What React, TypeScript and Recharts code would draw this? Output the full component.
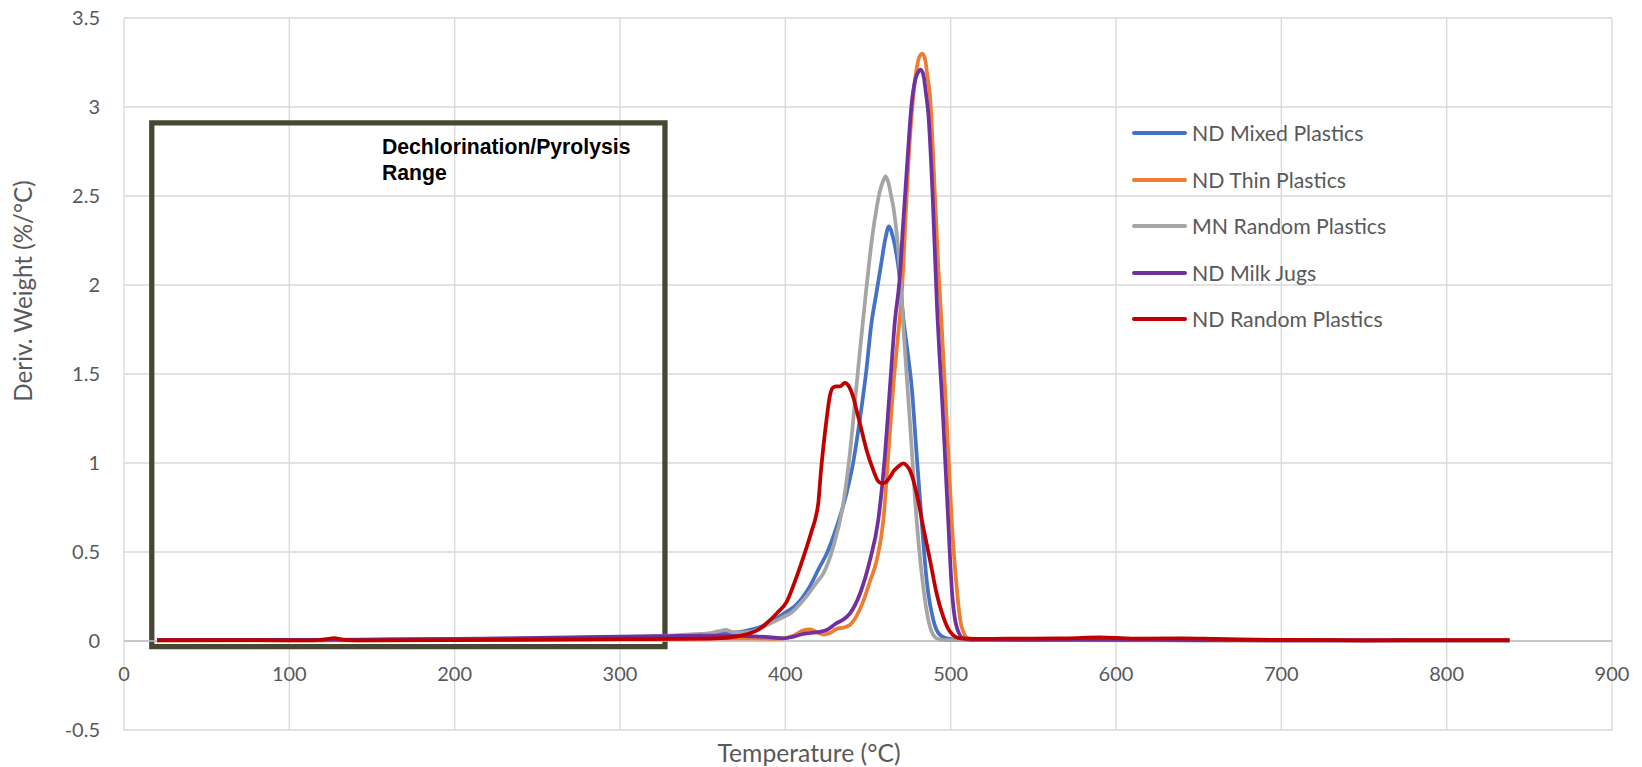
import React from 'react';
import {
  LineChart,
  Line,
  XAxis,
  YAxis,
  CartesianGrid,
  ReferenceLine,
  ReferenceArea,
  Legend,
  Label,
} from 'recharts';

// ---------- tick labels ----------
const xTicks = [0, 100, 200, 300, 400, 500, 600, 700, 800, 900];
const yTicks = [-0.5, 0, 0.5, 1, 1.5, 2, 2.5, 3, 3.5];

// ---------- series names / colours ----------
const seriesNames = [
  'ND Mixed Plastics',
  'ND Thin Plastics',
  'MN Random Plastics',
  'ND Milk Jugs',
  'ND Random Plastics',
];
const seriesColors = ['#4472C4', '#ED7D31', '#A5A5A5', '#7030A0', '#C00000'];

// ---------- ND Mixed Plastics ----------
const mixedT = [20, 50, 100, 150, 200, 250, 300, 330, 350, 362, 370, 380, 390, 400, 405, 410, 415, 421, 425, 431, 435, 437, 441, 445, 449, 452, 455, 458, 460.5, 462.7, 464.5, 466.3, 469.3, 471.3, 474, 476.4, 479.4, 482.4, 485.5, 489.5, 493.5, 497.6, 505, 550, 600, 650, 700, 750, 800, 838];
const mixedV = [0.005, 0.005, 0.005, 0.008, 0.01, 0.015, 0.022, 0.028, 0.035, 0.045, 0.048, 0.065, 0.1, 0.16, 0.19, 0.24, 0.31, 0.42, 0.49, 0.64, 0.76, 0.83, 1.0, 1.24, 1.52, 1.78, 1.95, 2.12, 2.26, 2.33, 2.29, 2.22, 2.03, 1.82, 1.62, 1.43, 1.05, 0.68, 0.34, 0.118, 0.034, 0.015, 0.008, 0.006, 0.005, 0.004, 0.003, 0.003, 0.003, 0.003];

// ---------- ND Thin Plastics ----------
const thinT = [20, 50, 100, 150, 200, 250, 300, 350, 380, 395, 405, 411, 415, 419, 423, 427, 431, 435, 439, 443, 447, 451, 455.3, 459.3, 462.3, 465.3, 468, 470.4, 472.4, 474.4, 477.4, 479.5, 481, 482.8, 484.5, 486, 487.5, 490.5, 492.5, 494.5, 497.6, 500.6, 503.6, 506.6, 510.7, 520, 550, 600, 650, 700, 750, 800, 838];
const thinV = [0.002, 0.003, 0.003, 0.004, 0.005, 0.007, 0.01, 0.015, 0.015, 0.012, 0.03, 0.06, 0.065, 0.05, 0.036, 0.045, 0.068, 0.075, 0.09, 0.14, 0.22, 0.33, 0.455, 0.68, 1.05, 1.43, 1.7, 1.95, 2.31, 2.68, 3.06, 3.22, 3.28, 3.3, 3.27, 3.17, 3.06, 2.5, 2.1, 1.78, 1.24, 0.68, 0.305, 0.08, 0.015, 0.01, 0.01, 0.01, 0.008, 0.006, 0.004, 0.004, 0.004];

// ---------- MN Random Plastics ----------
const mnT = [20, 50, 100, 150, 200, 250, 300, 330, 345, 355, 360, 364, 368, 372, 379, 389, 399, 403, 411, 419, 423, 429, 435, 439, 443, 445, 447, 449, 451, 453, 455, 457, 459, 460.7, 462.5, 464, 465.3, 467, 468.3, 470.3, 472, 475.3, 479.4, 483.4, 487.5, 491.5, 496, 550, 600, 650, 700, 750, 800, 838];
const mnV = [0.003, 0.004, 0.005, 0.007, 0.01, 0.014, 0.022, 0.03, 0.038, 0.045, 0.055, 0.062, 0.05, 0.048, 0.052, 0.09, 0.136, 0.155, 0.23, 0.33, 0.38, 0.53, 0.77, 1.05, 1.43, 1.62, 1.8, 1.98, 2.15, 2.3, 2.42, 2.52, 2.58, 2.61, 2.57, 2.5, 2.44, 2.32, 2.2, 1.93, 1.68, 1.24, 0.68, 0.305, 0.08, 0.015, 0.005, 0.005, 0.004, 0.004, 0.003, 0.003, 0.003, 0.003];

// ---------- ND Milk Jugs ----------
const milkT = [20, 50, 100, 150, 200, 250, 300, 330, 350, 375, 390, 398.8, 405, 410, 415, 420, 425, 431, 435, 439.1, 445.2, 451.2, 456.2, 460.3, 463.3, 466.3, 469, 471.3, 473.7, 476.4, 478.5, 480, 481.8, 483.5, 485, 486.5, 489.1, 491.5, 495.5, 498.5, 500.6, 503.6, 507.6, 512, 550, 600, 650, 700, 750, 800, 838];
const milkV = [0.005, 0.006, 0.006, 0.008, 0.012, 0.017, 0.024, 0.028, 0.03, 0.028, 0.022, 0.015, 0.025, 0.038, 0.045, 0.05, 0.062, 0.1, 0.12, 0.155, 0.267, 0.455, 0.68, 1.05, 1.43, 1.8, 2.02, 2.35, 2.68, 3.02, 3.15, 3.19, 3.21, 3.18, 3.08, 2.96, 2.5, 1.93, 1.24, 0.68, 0.305, 0.08, 0.015, 0.008, 0.006, 0.006, 0.005, 0.004, 0.004, 0.004, 0.004];

// ---------- ND Random Plastics ----------
const ndRandT = [20, 50, 100, 115, 122, 127, 132, 140, 200, 250, 300, 330, 358, 370, 378.6, 384, 388.7, 394.8, 400.8, 406.8, 413, 416, 418.5, 420, 421.5, 423, 425, 427, 429, 431, 433, 436, 438.5, 441.1, 443, 445.2, 449.2, 453.2, 456, 458.2, 460.5, 463.2, 466, 468.3, 471.3, 473.5, 475.3, 477.5, 479.4, 483.4, 487.5, 491.5, 495.5, 499.6, 505.6, 520, 550, 570, 590, 610, 640, 660, 700, 750, 800, 838];
const ndRandV = [0.005, 0.005, 0.004, 0.004, 0.01, 0.016, 0.008, 0.004, 0.005, 0.008, 0.01, 0.012, 0.015, 0.025, 0.043, 0.065, 0.1, 0.155, 0.22, 0.36, 0.53, 0.62, 0.7, 0.78, 0.95, 1.09, 1.25, 1.38, 1.425, 1.43, 1.43, 1.45, 1.43, 1.37, 1.3, 1.22, 1.07, 0.96, 0.9, 0.886, 0.89, 0.92, 0.96, 0.98, 0.998, 0.985, 0.96, 0.9, 0.83, 0.64, 0.455, 0.267, 0.137, 0.052, 0.015, 0.012, 0.014, 0.015, 0.02, 0.014, 0.015, 0.012, 0.006, 0.004, 0.005, 0.005];

const toPoints = (t: number[], v: number[]) => t.map((x, i) => ({ t: x, v: v[i] }));

const seriesData = [
  toPoints(mixedT, mixedV),
  toPoints(thinT, thinV),
  toPoints(mnT, mnV),
  toPoints(milkT, milkV),
  toPoints(ndRandT, ndRandV),
];

const FONT = 'Lato, "Open Sans", sans-serif';
const TEXT = '#595959';

const XTick = (props: any) => {
  const { x, payload } = props;
  return (
    <text x={x} y={681} textAnchor="middle" fill={TEXT} fontSize={20} fontFamily={FONT}>
      {payload.value}
    </text>
  );
};

const YTick = (props: any) => {
  const { y, payload } = props;
  return (
    <text x={100} y={y} dy={7} textAnchor="end" fill={TEXT} fontSize={20} fontFamily={FONT}>
      {payload.value}
    </text>
  );
};

const LegendContent = () => (
  <div style={{ fontFamily: FONT, fontSize: 21.3, color: TEXT }}>
    {seriesNames.map((name, i) => (
      <div key={name} style={{ height: 46.5, display: 'flex', alignItems: 'center', whiteSpace: 'nowrap' }}>
        <div style={{ width: 55, height: 4, background: seriesColors[i], marginRight: 5, borderRadius: 2 }} />
        <span>{name}</span>
      </div>
    ))}
  </div>
);

const RangeLabel = () => (
  <text fontFamily='"Liberation Sans", Arial, sans-serif' fontWeight="bold" fontSize={21.2} fill="#000">
    <tspan x={382} y={154}>Dechlorination/Pyrolysis</tspan>
    <tspan x={382} y={180}>Range</tspan>
  </text>
);

export default function App() {
  return (
    <div style={{ position: 'absolute', left: 0, top: 0, width: 1642, height: 767, background: '#fff' }}>
      <LineChart width={1642} height={767} margin={{ top: 18, right: 30, bottom: 0, left: 0 }}>
        <CartesianGrid stroke="#d9d9d9" strokeWidth={1.3} />
        <XAxis
          type="number"
          dataKey="t"
          domain={[0, 900]}
          ticks={xTicks}
          interval={0}
          allowDataOverflow
          axisLine={false}
          tickLine={false}
          height={37}
          tick={<XTick />}
        >
          <Label
            content={() => (
              <text x={809} y={762} textAnchor="middle" fill={TEXT} fontSize={24.7} fontFamily={FONT}>
                Temperature (°C)
              </text>
            )}
          />
        </XAxis>
        <YAxis
          type="number"
          domain={[-0.5, 3.5]}
          ticks={yTicks}
          interval={0}
          allowDataOverflow
          axisLine={false}
          tickLine={false}
          width={124}
          tick={<YTick />}
        >
          <Label
            content={() => (
              <text
                transform="translate(32,291) rotate(-90)"
                textAnchor="middle"
                fill={TEXT}
                fontSize={24.2}
                fontFamily={FONT}
              >
                Deriv. Weight (%/°C)
              </text>
            )}
          />
        </YAxis>
        <ReferenceLine y={0} stroke="#bfbfbf" strokeWidth={1.5} />
        {seriesData.map((d, i) => (
          <Line
            key={seriesNames[i]}
            data={d}
            dataKey="v"
            name={seriesNames[i]}
            type="monotone"
            stroke={seriesColors[i]}
            strokeWidth={3.75}
            dot={false}
            activeDot={false}
            isAnimationActive={false}
          />
        ))}
        <ReferenceArea
          x1={16.8}
          x2={327.2}
          y1={-0.032}
          y2={2.911}
          fill="none"
          fillOpacity={0}
          stroke="#474733"
          strokeWidth={5.3}
          ifOverflow="visible"
          label={<RangeLabel />}
        />
        <Legend
          layout="vertical"
          align="center"
          verticalAlign="middle"
          content={<LegendContent />}
          wrapperStyle={{ position: 'absolute', left: 1132, top: 110, width: 320, height: 'auto', margin: 0, padding: 0 }}
        />
      </LineChart>
    </div>
  );
}
